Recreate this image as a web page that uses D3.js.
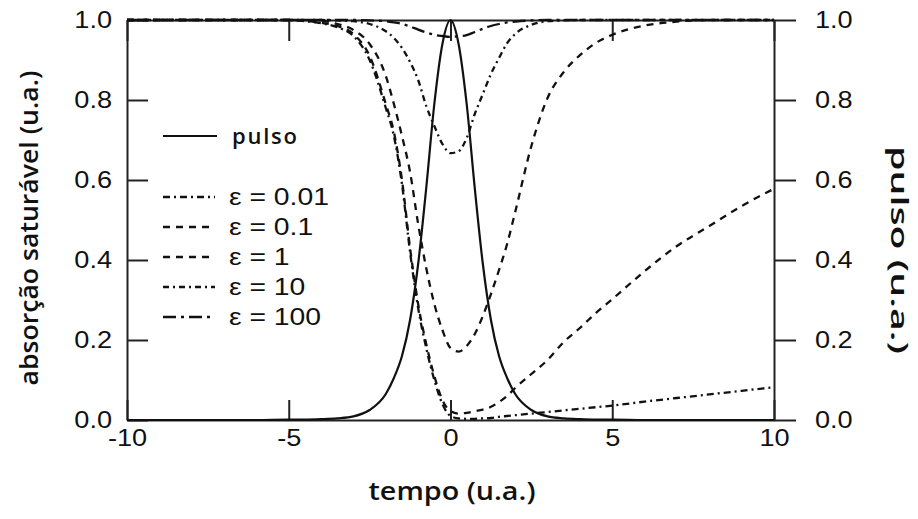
<!DOCTYPE html>
<html><head><meta charset="utf-8">
<script src="https://cdn.jsdelivr.net/npm/d3@7"></script>
<style>body{margin:0;background:#fff} svg{display:block}</style>
</head><body><svg id="chart" width="918" height="519"></svg>
<script>
// time axis samples (u.a.)
const times = [-10,-8,-6,-5,-4.5,-4,-3.5,-3,-2.5,-2,-1.75,-1.5,-1.25,-1,-0.75,-0.5,-0.25,0,0.25,0.5,0.75,1,1.25,1.5,1.75,2,2.5,3,3.5,4,4.5,5,6,7,8,9,10];
// pulse (right axis)
const pulse = [0,0,0,0.001,0.001,0.002,0.004,0.009,0.025,0.065,0.105,0.16,0.25,0.39,0.58,0.79,0.94,1,0.94,0.79,0.58,0.39,0.25,0.16,0.105,0.065,0.025,0.009,0.004,0.002,0.001,0.001,0,0,0,0,0];
// saturable absorption for each epsilon (left axis)
const eps001 = [1,1,1,1,0.997,0.992,0.982,0.96,0.9,0.78,0.71,0.59,0.42,0.28,0.18,0.1,0.04,0.01,0.004,0.003,0.003,0.004,0.005,0.008,0.01,0.012,0.016,0.02,0.024,0.028,0.032,0.036,0.046,0.055,0.064,0.073,0.082];
const eps01  = [1,1,1,1,0.998,0.993,0.985,0.965,0.91,0.79,0.72,0.6,0.43,0.29,0.19,0.11,0.05,0.022,0.016,0.018,0.022,0.026,0.033,0.045,0.06,0.08,0.115,0.15,0.195,0.23,0.268,0.302,0.372,0.435,0.485,0.535,0.578];
const eps1   = [1,1,1,1,1,0.998,0.99,0.975,0.94,0.86,0.79,0.71,0.62,0.49,0.38,0.29,0.225,0.18,0.171,0.185,0.215,0.26,0.315,0.375,0.44,0.52,0.685,0.805,0.87,0.912,0.943,0.963,0.986,0.996,1,1,1];
const eps10  = [1,1,1,1,1,1,0.999,0.997,0.99,0.972,0.955,0.93,0.895,0.85,0.785,0.735,0.69,0.667,0.672,0.705,0.765,0.815,0.865,0.905,0.942,0.965,0.988,0.997,0.999,1,1,1,1,1,1,1,1];
const eps100 = [1,1,1,1,1,1,1,1,0.999,0.997,0.994,0.99,0.984,0.976,0.969,0.963,0.96,0.958,0.959,0.962,0.97,0.978,0.985,0.99,0.994,0.996,0.999,1,1,1,1,1,1,1,1,1,1];

const xTicks = [-10,-5,0,5,10];
const yTicks = [0,0.2,0.4,0.6,0.8,1.0];
const epsLabels = ["0.01","0.1","1","10","100"];
const epsSeries = [eps001, eps01, eps1, eps10, eps100];
const epsDash = ["7,4,2,4","7,6","7,6","6,4,2,4","13,5,3,5"];

const svg = d3.select("#chart");
const x = d3.scaleLinear().domain([-10,10]).range([127,774]);
const y = d3.scaleLinear().domain([0,1]).range([420,20]);
const tickFont = "'Liberation Sans', Arial, Helvetica, sans-serif";
const SX = 1.18; // horizontal stretch of the scanned Helvetica-like labels
const fmt = d3.format(".1f");

function styleAxis(g){
  g.selectAll("path.domain").attr("stroke","#222").attr("stroke-width",2);
  g.selectAll(".tick line").attr("stroke","#222").attr("stroke-width",2);
  g.selectAll(".tick text").attr("font-family",tickFont).attr("font-size",23).attr("fill","#111");
}

svg.append("g").attr("transform","translate(127,0)")
  .call(d3.axisLeft(y).tickValues(yTicks).tickFormat(fmt).tickSizeInner(-21).tickSizeOuter(0).tickPadding(15/SX))
  .call(styleAxis)
  .call(g=>g.selectAll(".tick text").attr("transform",`scale(${SX},1)`));
svg.append("g").attr("transform","translate(774,0)")
  .call(d3.axisRight(y).tickValues(yTicks).tickFormat(fmt).tickSizeInner(22).tickSizeOuter(0).tickPadding(41/SX-22))
  .call(styleAxis)
  .call(g=>g.selectAll(".tick text").attr("transform",`scale(${SX},1)`));
svg.append("g").attr("transform","translate(0,420)")
  .call(d3.axisBottom(x).tickValues(xTicks).tickFormat(d=>String(d)).tickSizeInner(-20).tickSizeOuter(0).tickPadding(10))
  .call(styleAxis)
  .call(g=>g.selectAll(".tick text").attr("transform",`scale(${SX},1)`));
svg.append("g").attr("transform","translate(0,20)")
  .call(d3.axisTop(x).tickValues(xTicks).tickFormat("").tickSizeInner(-21).tickSizeOuter(0))
  .call(styleAxis);

const line = vals => d3.line().x((d,i)=>x(times[i])).y(d=>y(d)).curve(d3.curveMonotoneX)(vals);

epsSeries.forEach((vals,k)=>{
  svg.append("path").attr("d",line(vals)).attr("fill","none")
    .attr("stroke","#111").attr("stroke-width",2.3).attr("stroke-dasharray",epsDash[k]);
});
svg.append("path").attr("d",line(pulse)).attr("fill","none").attr("stroke","#111").attr("stroke-width",2.2);

// legend
const lg = svg.append("g");
lg.append("line").attr("x1",163).attr("x2",217).attr("y1",136).attr("y2",136).attr("stroke","#111").attr("stroke-width",2.2);
lg.append("text").attr("x",232).attr("y",144).attr("font-family","'Open Sans', sans-serif").attr("font-weight",600)
  .attr("font-size",22).attr("textLength",65).attr("fill","#111").text("pulso");
epsLabels.forEach((lab,k)=>{
  const yy = 197 + k*30;
  lg.append("line").attr("x1",163).attr("x2",215).attr("y1",yy).attr("y2",yy)
    .attr("stroke","#111").attr("stroke-width",2.3).attr("stroke-dasharray",epsDash[k]);
  lg.append("text").attr("transform",`translate(229,${yy+8}) scale(${SX},1)`)
    .attr("font-family",tickFont).attr("font-size",24).attr("fill","#111")
    .text(`ε = ${lab}`);
});

// axis titles
const titleFont = "'Open Sans', sans-serif";
svg.append("text").attr("transform","translate(38,228) rotate(-90)").attr("text-anchor","middle")
  .attr("font-family",titleFont).attr("font-weight",600).attr("font-size",25).attr("fill","#111")
  .attr("textLength",315).attr("lengthAdjust","spacingAndGlyphs").text("absorção saturável (u.a.)");
svg.append("text").attr("transform","translate(891,250) rotate(90)").attr("text-anchor","middle")
  .attr("font-family",titleFont).attr("font-weight",600).attr("font-size",23).attr("fill","#111")
  .attr("textLength",208).attr("lengthAdjust","spacingAndGlyphs").text("pulso (u.a.)");
svg.append("text").attr("x",452).attr("y",500).attr("text-anchor","middle")
  .attr("font-family",titleFont).attr("font-weight",600).attr("font-size",25).attr("fill","#111")
  .attr("textLength",167).attr("lengthAdjust","spacingAndGlyphs").text("tempo (u.a.)");
</script></body></html>
